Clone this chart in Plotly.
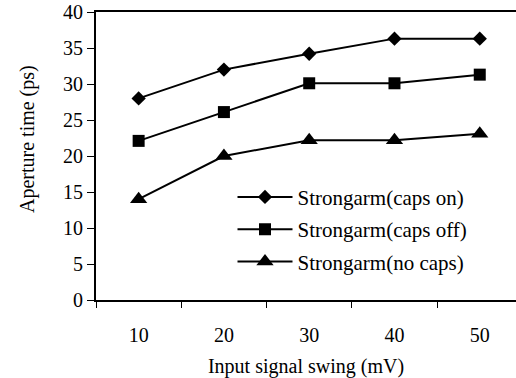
import plotly.graph_objects as go

x_vals = [10, 20, 30, 40, 50]
caps_on = [28.0, 32.0, 34.2, 36.3, 36.3]
caps_off = [22.1, 26.1, 30.1, 30.1, 31.3]
no_caps = [14.0, 20.0, 22.2, 22.2, 23.1]
names = ["Strongarm(caps on)", "Strongarm(caps off)", "Strongarm(no caps)"]
symbols = ["diamond", "square", "triangle-up"]
sizes = [11, 12, 15]

FONT = "Liberation Serif"
fig = go.Figure()
for i, (ys, nm, sym, sz) in enumerate(zip([caps_on, caps_off, no_caps], names, symbols, sizes)):
    fig.add_trace(go.Scatter(
        x=x_vals, y=ys, name=nm, mode="lines+markers",
        line=dict(color="black", width=2),
        marker=dict(symbol=sym, size=sz, color="black"),
        legendgroup=f"g{i}",
    ))

fig.add_annotation(text="Aperture time (ps)", textangle=-90,
                   xref="paper", yref="paper",
                   x=(27 - 96) / 420, y=(300 - 139) / 288,
                   xanchor="center", yanchor="middle", showarrow=False,
                   font=dict(family=FONT, size=20, color="black"))

fig.update_layout(
    width=516, height=378,
    margin=dict(l=96, r=0, t=12, b=78),
    paper_bgcolor="white", plot_bgcolor="white",
    font=dict(family=FONT, size=20, color="black"),
    showlegend=True,
    legend=dict(x=0.325, y=0.428, xanchor="left", yanchor="top",
                bgcolor="rgba(0,0,0,0)", borderwidth=0,
                font=dict(family=FONT, size=21),
                itemwidth=55, tracegroupgap=2),
    xaxis=dict(range=[5, 54.25], tickvals=x_vals, ticks="", showgrid=False,
               zeroline=False, showline=True, linecolor="black", linewidth=2,
               mirror=True, ticklabelstandoff=16,
               minor=dict(tickvals=[5, 15, 25, 35, 45], ticks="outside",
                          ticklen=6, tickwidth=1, tickcolor="black", showgrid=False),
               title=dict(text="Input signal swing (mV)", standoff=14,
                          font=dict(family=FONT, size=20))),
    yaxis=dict(range=[0, 40], dtick=5, ticks="outside", ticklen=7, tickwidth=1,
               tickcolor="black", showgrid=False, zeroline=False, showline=True,
               linecolor="black", linewidth=2),
)

fig.write_html("out.html")
